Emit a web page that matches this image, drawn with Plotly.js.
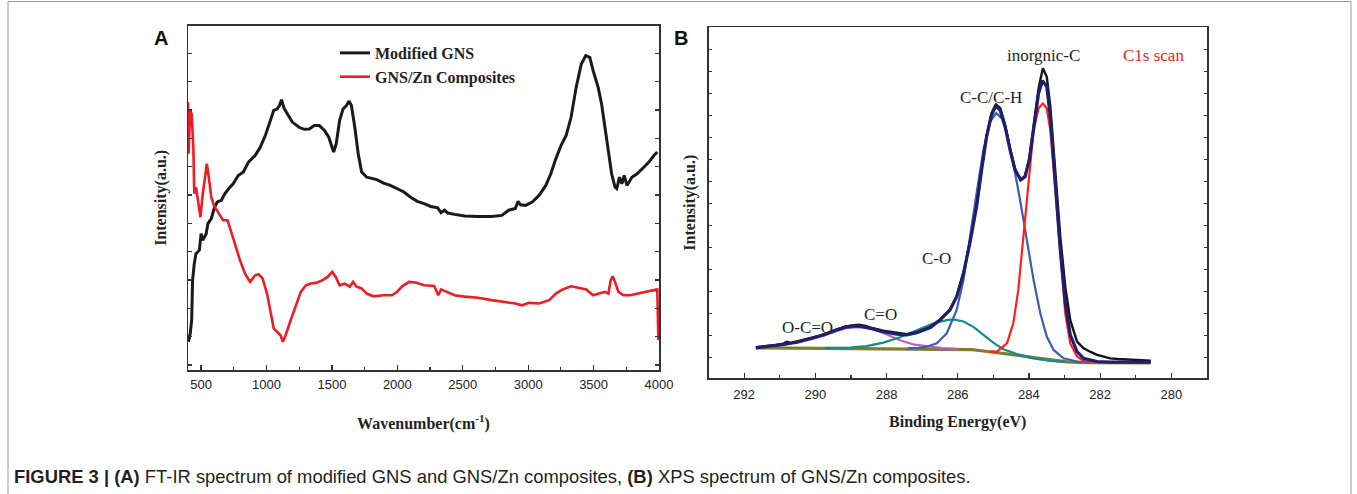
<!DOCTYPE html>
<html><head><meta charset="utf-8">
<script src="https://cdn.plot.ly/plotly-3.0.1.min.js"></script>
<style>html,body{margin:0;padding:0;background:#fff;}#chart{width:1357px;height:494px;}</style>
</head><body><div id="chart"></div>
<script>
// ---------- Panel A : FT-IR ----------
const irWavenumberGNS = [404,417,428,435,448,461,487,500,513,539,552,578,603,624,655,681,712,745,784,823,862,913,952,991,1030,1055,1081,1099,1115,1133,1159,1197,1249,1288,1327,1365,1404,1443,1476,1513,1533,1559,1585,1611,1631,1649,1675,1701,1727,1766,1843,1895,1947,1998,2050,2102,2153,2205,2256,2308,2334,2360,2386,2437,2515,2618,2721,2799,2851,2902,2923,2941,2980,3031,3083,3135,3173,3212,3251,3290,3328,3367,3406,3440,3471,3496,3535,3561,3587,3613,3638,3664,3677,3698,3716,3734,3755,3793,3832,3884,3923,3961,3987];
const irIntensityGNS = [8.2,10.6,14.5,26.1,30.9,33.8,34.8,39.6,37.7,39.6,42.5,44.0,47.3,48.8,49.3,51.2,52.7,54.1,56.5,57.5,60.4,62.3,64.7,68.1,72.5,75.4,75.8,76.8,78.5,76.1,74.4,72.0,70.5,69.9,70.0,71.0,71.0,69.6,67.6,63.3,65.7,72.5,75.8,76.8,78.1,76.8,70.5,62.8,57.5,56.0,55.3,54.3,53.6,52.7,51.7,50.2,49.0,48.3,47.5,47.1,45.7,46.4,45.6,45.2,44.7,44.6,44.6,44.9,46.4,46.9,49.0,48.0,47.8,48.8,50.7,53.6,57.0,61.4,65.2,68.1,73.4,82.1,88.9,91.3,90.8,87.0,82.1,77.3,70.5,64.7,57.0,53.1,52.7,56.0,54.1,56.5,53.6,56.0,57.0,58.9,60.4,62.3,63.3];

const irWavenumberZn = [400,404,417,428,441,448,461,474,495,513,531,544,559,578,598,629,668,702,720,758,797,836,875,913,939,970,1004,1030,1055,1081,1107,1125,1146,1185,1223,1262,1301,1340,1378,1430,1469,1502,1528,1559,1598,1637,1662,1688,1727,1766,1817,1895,1959,1998,2037,2089,2140,2205,2282,2313,2334,2373,2437,2515,2618,2721,2825,2902,2954,3006,3083,3161,3212,3264,3328,3393,3445,3496,3548,3587,3613,3631,3646,3664,3690,3729,3780,3832,3884,3935,3987,3995];
const irIntensityZn = [77.8,62.8,75.4,74.4,64.7,51.2,53.1,50.2,44.4,51.2,57.0,59.9,56.0,50.2,47.8,45.9,43.5,43.5,41.5,36.7,31.9,28.0,25.6,27.5,27.8,26.6,22.2,17.4,12.1,11.1,10.1,8.2,10.1,14.5,18.8,22.7,24.6,25.1,25.3,26.1,27.1,28.5,27.1,24.6,25.1,24.2,25.6,24.2,23.7,22.2,21.4,21.7,21.7,22.7,24.3,25.6,25.4,24.6,24.4,21.7,23.4,22.7,21.7,21.3,21.0,20.3,19.8,19.3,18.8,19.5,19.3,20.3,22.2,23.4,24.3,23.9,23.4,21.7,22.2,22.7,22.2,26.1,27.2,25.6,22.7,21.7,21.7,22.2,22.7,23.0,23.4,8.7];

const irTicks = [500,1000,1500,2000,2500,3000,3500,4000];
const irLegendNames = ['Modified GNS','GNS/Zn Composites'];

// ---------- Panel B : XPS C1s ----------
const xpsBERaw = [291.67,291.4,291.28,291.1,290.9,290.8,290.7,290.51,290.3,290.12,289.93,289.73,289.44,289.15,288.96,288.77,288.56,288.47,288.09,287.71,287.43,287.15,286.77,286.5,286.22,286.03,285.84,285.66,285.47,285.33,285.19,285.05,284.93,284.81,284.67,284.53,284.39,284.23,284.11,283.99,283.87,283.73,283.61,283.5,283.4,283.26,283.12,282.98,282.84,282.65,282.47,282.28,282.09,281.9,281.72,281.5,281.21,280.9,280.58];
const xpsIRaw = [8.8,9.0,9.3,9.4,9.8,10.3,10.0,10.4,10.9,11.4,11.9,12.6,13.8,14.7,15.0,15.2,14.8,14.4,13.5,12.8,12.5,13.1,14.6,16.6,19.5,23.3,30.0,38.6,49.1,59.6,69.2,75.6,78.0,77.0,72.2,65.4,59.6,56.6,57.6,62.6,72.4,82.6,88.3,85.9,77.4,57.4,40.3,26.0,16.5,10.4,8.5,7.5,6.6,6.1,5.6,5.4,5.2,5.0,4.9];

const xpsBEFit = [291.67,291.28,290.9,290.51,290.12,289.73,289.44,289.15,288.96,288.75,288.47,288.09,287.71,287.43,287.15,286.77,286.5,286.22,286.03,285.84,285.66,285.47,285.33,285.19,285.05,284.93,284.81,284.67,284.53,284.39,284.23,284.11,283.99,283.87,283.73,283.62,283.5,283.4,283.26,283.12,282.98,282.84,282.65,282.47,282.09,281.72,280.58];
const xpsIFit = [8.6,9.0,9.6,10.2,11.2,12.4,13.6,14.5,14.8,14.8,14.2,13.2,12.5,12.3,12.9,14.4,16.5,19.4,23.2,29.8,38.4,48.9,59.3,68.8,75.0,77.6,76.4,71.7,65.0,59.3,56.5,57.4,62.2,71.7,81.2,84.8,83.1,74.5,55.5,36.5,21.3,12.3,7.5,5.6,4.7,4.5,4.5];

const xpsBECC = [287.4,287.1,286.87,286.59,286.31,286.03,285.84,285.66,285.47,285.28,285.09,284.92,284.76,284.62,284.44,284.25,284.06,283.87,283.68,283.5,283.31,283.03,282.65,282.3];
const xpsICC = [8.5,8.6,8.9,9.9,12.7,19.4,27.9,40.3,52.7,65.0,73.1,75.5,74.0,69.8,61.2,50.8,39.3,27.9,18.4,11.8,8.0,5.6,4.7,4.5];

const xpsBEInorg = [285.1,284.9,284.62,284.44,284.3,284.15,284.01,283.87,283.73,283.61,283.5,283.4,283.26,283.12,282.98,282.84,282.65,282.47,282.2];
const xpsIInorg = [7.5,7.5,9.9,15.6,25.1,40.3,56.5,70.7,76.9,78.3,76.9,70.7,53.6,34.6,18.4,9.9,6.1,4.9,4.5];

const xpsBECO = [289.73,289.3,289.03,288.56,288.09,287.62,287.15,286.68,286.31,286.12,285.84,285.56,285.28,285.0,284.72,284.34,283.87,283.4,283.0];
const xpsICO = [8.6,8.6,8.65,9.1,10.1,11.6,13.7,15.6,16.5,16.7,16.1,14.6,12.3,10.1,8.2,6.8,5.6,4.9,4.6];

const xpsBECdO = [291.3,290.9,290.51,290.12,289.73,289.44,289.15,288.77,288.38,287.99,287.6,287.22,286.83,286.44,286.0];
const xpsICdO = [8.7,9.5,10.2,11.0,12.2,13.3,14.2,14.5,14.0,12.4,10.7,9.5,8.9,8.5,8.3];

const xpsBEBase = [291.67,289.93,288.0,286.5,285.6,285.28,284.81,284.34,283.87,283.4,282.93,282.47,281.72,280.58];
const xpsIBase = [8.6,8.5,8.45,8.3,8.1,7.7,7.2,6.5,5.8,5.1,4.6,4.4,4.3,4.3];

const xpsTicks = [292,290,288,286,284,282,280];
const xpsPeakLabels = ['inorgnic-C','C-C/C-H','C-O','C=O','O-C=O'];
const xpsPeakBE = [283.59,285.06,286.60,288.18,290.22];
const xpsPeakI = [92.1,80.0,34.2,18.2,14.3];

// ---------- figure ----------
const W = 1357, H = 494;
const px = x => x / W;
const py = y => (H - y) / H;
const serif = 'Liberation Serif, Times New Roman, serif';
const sans = 'Liberation Sans, Arial, sans-serif';

const line = (c, w) => ({color: c, width: w, shape: 'linear'});
const traces = [
  {x: irWavenumberGNS, y: irIntensityGNS, xaxis: 'x', yaxis: 'y', mode: 'lines', name: irLegendNames[0], line: line('#1a1a1a', 3), showlegend: true},
  {x: irWavenumberZn, y: irIntensityZn, xaxis: 'x', yaxis: 'y', mode: 'lines', name: irLegendNames[1], line: line('#ee1c24', 2.6), showlegend: true},
  {x: xpsBEBase, y: xpsIBase, xaxis: 'x2', yaxis: 'y2', mode: 'lines', name: 'Baseline', line: line('#7f7d2f', 3.2), showlegend: false},
  {x: xpsBECdO, y: xpsICdO, xaxis: 'x2', yaxis: 'y2', mode: 'lines', name: 'C=O', line: line('#c05cc0', 2.2), showlegend: false},
  {x: xpsBECO, y: xpsICO, xaxis: 'x2', yaxis: 'y2', mode: 'lines', name: 'C-O', line: line('#138d8a', 2.2), showlegend: false},
  {x: xpsBECC, y: xpsICC, xaxis: 'x2', yaxis: 'y2', mode: 'lines', name: 'C-C/C-H', line: line('#3a5cb8', 2.2), showlegend: false},
  {x: xpsBEInorg, y: xpsIInorg, xaxis: 'x2', yaxis: 'y2', mode: 'lines', name: 'inorgnic-C', line: line('#ff1f1f', 2.2), showlegend: false},
  {x: xpsBERaw, y: xpsIRaw, xaxis: 'x2', yaxis: 'y2', mode: 'lines', name: 'Raw', line: line('#151515', 2.4), showlegend: false},
  {x: xpsBEFit, y: xpsIFit, xaxis: 'x2', yaxis: 'y2', mode: 'lines', name: 'Fit', line: line('#1f1f6e', 3.2), showlegend: false}
];

const axisCommon = {
  showline: true, mirror: true, linecolor: '#333', linewidth: 1.5,
  showgrid: false, zeroline: false, automargin: false,
  ticks: 'inside', tickcolor: '#333', tickwidth: 1.2
};

const layout = {
  width: W, height: H, autosize: false,
  margin: {l: 0, r: 0, t: 0, b: 0},
  paper_bgcolor: '#fff', plot_bgcolor: '#fff',
  showlegend: true,
  legend: {x: px(335), y: py(36), xanchor: 'left', yanchor: 'top', bgcolor: 'rgba(0,0,0,0)',
           font: {family: serif, size: 16, weight: 'bold', color: '#222'}, itemwidth: 30, tracegroupgap: 0},
  xaxis: Object.assign({}, axisCommon, {
    domain: [px(188), px(659)], range: [400, 4000], anchor: 'y',
    tickmode: 'array', tickvals: irTicks, ticktext: irTicks.map(String), ticklen: 5,
    minor: {ticks: 'inside', ticklen: 3, dtick: 250, tick0: 0, tickcolor: '#333', showgrid: false},
    tickfont: {family: sans, size: 13, color: '#222'}, ticklabelstandoff: 2,
    title: {text: 'Wavenumber(cm<sup>-1</sup>)', font: {family: serif, size: 16, weight: 'bold', color: '#222'}, standoff: 26}
  }),
  yaxis: Object.assign({}, axisCommon, {
    domain: [py(370), py(25.7)], range: [0, 100], anchor: 'x', mirror: 'ticks',
    showticklabels: false, tick0: 1.47, dtick: 8.23, ticklen: 4,
    title: {text: 'Intensity(a.u.)', font: {family: serif, size: 16, weight: 'bold', color: '#222'}, standoff: 16}
  }),
  xaxis2: Object.assign({}, axisCommon, {
    domain: [px(708.5), px(1207)], range: [293, 279], anchor: 'y2',
    tickmode: 'array', tickvals: xpsTicks, ticktext: xpsTicks.map(String), ticklen: 5,
    minor: {ticks: 'inside', ticklen: 3, dtick: 1, tick0: 0, tickcolor: '#333', showgrid: false},
    tickfont: {family: sans, size: 13, color: '#222'}, ticklabelstandoff: 4,
    title: {text: 'Binding Energy(eV)', font: {family: serif, size: 16, weight: 'bold', color: '#222'}, standoff: 14}
  }),
  yaxis2: Object.assign({}, axisCommon, {
    domain: [py(378), py(27.3)], range: [0, 100], anchor: 'x2', mirror: 'ticks',
    showticklabels: false, tick0: 5.9, dtick: 6.27, ticklen: 3,
    title: {text: 'Intensity(a.u.)', font: {family: serif, size: 16, weight: 'bold', color: '#222'}, standoff: 7}
  }),
  shapes: [
    {type: 'rect', xref: 'paper', yref: 'paper', x0: px(8), x1: px(1351), y0: -0.1, y1: py(1.5),
     line: {color: '#9a9a9a', width: 1}, fillcolor: 'rgba(0,0,0,0)', layer: 'below'}
  ],
  annotations: [
    {text: '<b>A</b>', xref: 'paper', yref: 'paper', x: px(160.5), y: py(38.5), xanchor: 'center', yanchor: 'middle', showarrow: false,
     font: {family: sans, size: 20, color: '#111'}},
    {text: '<b>B</b>', xref: 'paper', yref: 'paper', x: px(681.5), y: py(38.5), xanchor: 'center', yanchor: 'middle', showarrow: false,
     font: {family: sans, size: 20, color: '#111'}},
    {text: '<b>FIGURE 3 | (A)</b> FT-IR spectrum of modified GNS and GNS/Zn composites, <b>(B)</b> XPS spectrum of GNS/Zn composites.',
     xref: 'paper', yref: 'paper', x: px(12), y: py(476), xanchor: 'left', yanchor: 'middle', showarrow: false,
     font: {family: sans, size: 18.4, color: '#231f20'}},
    {text: 'C1s scan', xref: 'x2', yref: 'y2', x: 280.50, y: 92.1, xanchor: 'center', yanchor: 'middle', showarrow: false,
     font: {family: serif, size: 17, color: '#ee1c24'}}
  ].concat(xpsPeakLabels.map((t, i) => ({
     text: t, xref: 'x2', yref: 'y2', x: xpsPeakBE[i], y: xpsPeakI[i], xanchor: 'center', yanchor: 'middle', showarrow: false,
     font: {family: serif, size: 17, color: '#231f20'}})))
};

Plotly.newPlot('chart', traces, layout, {staticPlot: true, displayModeBar: false});
</script></body></html>
